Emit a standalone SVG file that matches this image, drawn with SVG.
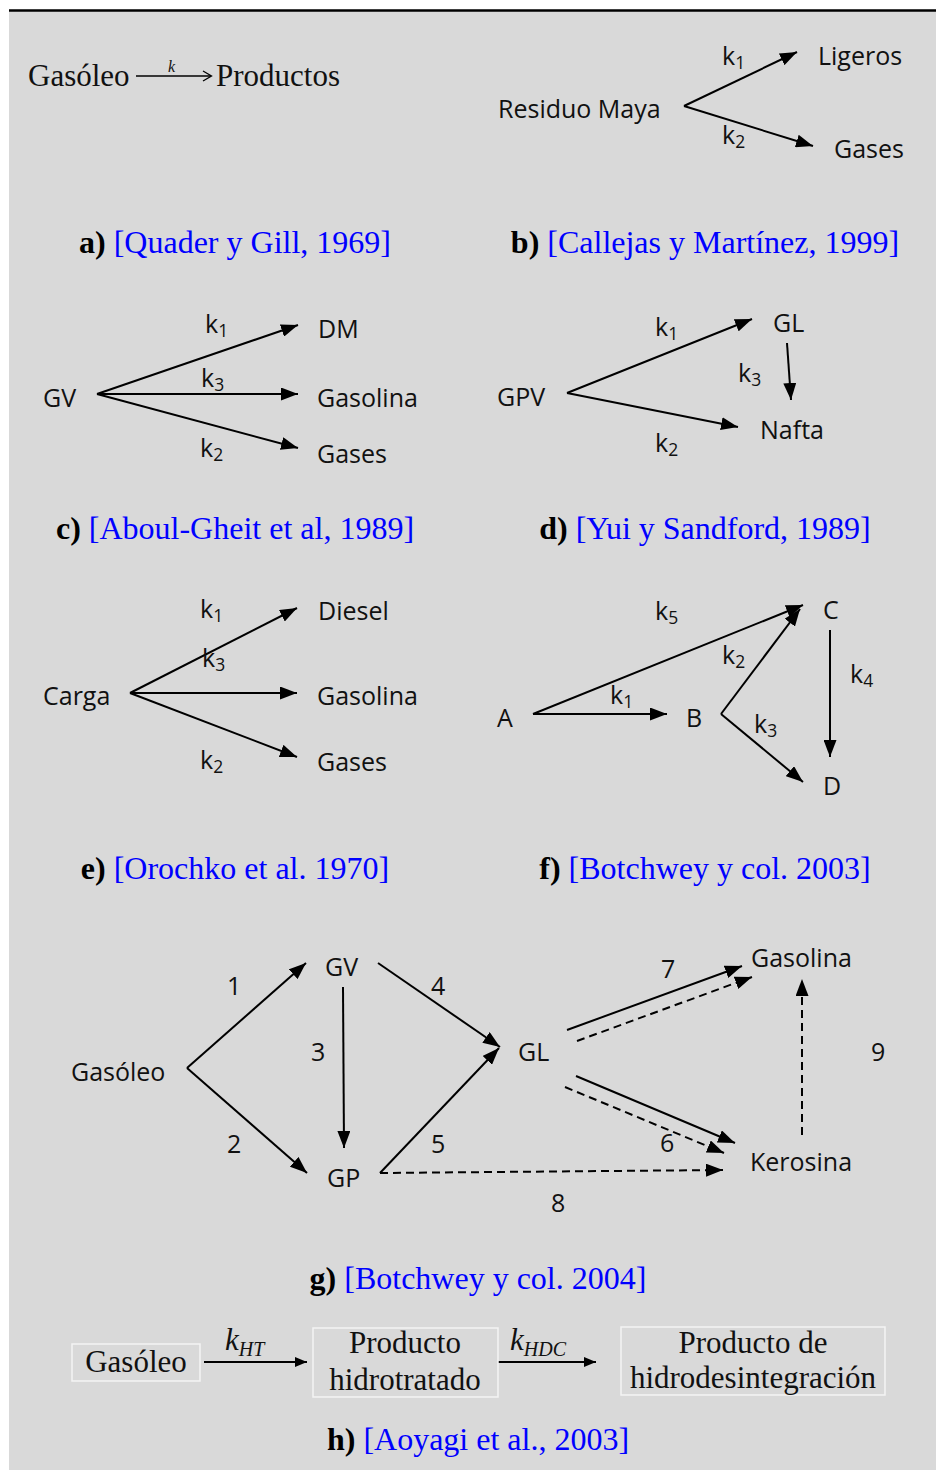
<svg xmlns="http://www.w3.org/2000/svg" width="936" height="1470" viewBox="0 0 936 1470">
<style>
.s{font-family:"Open Sans","Noto Sans",sans-serif;font-size:25px;fill:#111}
.sub{font-size:17.5px}
.t{font-family:"Liberation Serif","Times New Roman",serif;font-size:31px;fill:#111}
.cap{font-family:"Liberation Serif","Times New Roman",serif;font-size:32px;fill:#0000ff;text-anchor:middle}
.cap tspan.b{font-weight:bold;fill:#000}
.ln{stroke:#000;stroke-width:2;fill:none}
.ds{stroke:#000;stroke-width:2;fill:none;stroke-dasharray:8 5}
.bx{fill:#d9d9d9;stroke:#f4f4f4;stroke-width:1.5}
</style>
<defs>
<marker id="ah" viewBox="0 0 17 13" refX="17" refY="6.5" markerWidth="17" markerHeight="13" markerUnits="userSpaceOnUse" orient="auto"><path d="M0,0 L17,6.5 L0,13 z" fill="#000"/></marker>
<marker id="ahs" viewBox="0 0 12 10" refX="12" refY="5" markerWidth="12" markerHeight="10" markerUnits="userSpaceOnUse" orient="auto"><path d="M0,0 L12,5 L0,10 z" fill="#000"/></marker>
</defs>
<rect x="9" y="11" width="927" height="1459" fill="#d9d9d9"/>
<line x1="9" y1="10.5" x2="936" y2="10.5" stroke="#000" stroke-width="2.5"/>

<g id="connectors">
<line x1="136" y1="76" x2="211" y2="76" stroke="#000" stroke-width="1.3"/>
<path d="M203,71 L211.5,76 L203,81" stroke="#000" stroke-width="1.3" fill="none"/>
<line class="ln" x1="684" y1="106" x2="797" y2="52" marker-end="url(#ah)"/>
<line class="ln" x1="684" y1="106" x2="813" y2="146" marker-end="url(#ah)"/>
<line class="ln" x1="97" y1="394" x2="298" y2="325" marker-end="url(#ah)"/>
<line class="ln" x1="97" y1="394" x2="298" y2="394" marker-end="url(#ah)"/>
<line class="ln" x1="97" y1="394" x2="298" y2="448" marker-end="url(#ah)"/>
<line class="ln" x1="567" y1="393" x2="752" y2="319" marker-end="url(#ah)"/>
<line class="ln" x1="567" y1="393" x2="738" y2="427" marker-end="url(#ah)"/>
<line class="ln" x1="787" y1="343" x2="791" y2="400" marker-end="url(#ah)"/>
<line class="ln" x1="130" y1="693" x2="297" y2="608" marker-end="url(#ah)"/>
<line class="ln" x1="130" y1="693" x2="297" y2="693" marker-end="url(#ah)"/>
<line class="ln" x1="130" y1="693" x2="297" y2="757" marker-end="url(#ah)"/>
<line class="ln" x1="533" y1="714" x2="667" y2="714" marker-end="url(#ah)"/>
<line class="ln" x1="533" y1="714" x2="803" y2="605" marker-end="url(#ah)"/>
<line class="ln" x1="721" y1="714" x2="800" y2="609" marker-end="url(#ah)"/>
<line class="ln" x1="721" y1="714" x2="803" y2="782" marker-end="url(#ah)"/>
<line class="ln" x1="830" y1="630" x2="830" y2="757" marker-end="url(#ah)"/>
<line class="ln" x1="187" y1="1068" x2="306" y2="963" marker-end="url(#ah)"/>
<line class="ln" x1="187" y1="1068" x2="307" y2="1173" marker-end="url(#ah)"/>
<line class="ln" x1="343" y1="987" x2="344" y2="1148" marker-end="url(#ah)"/>
<line class="ln" x1="378" y1="963" x2="500" y2="1047" marker-end="url(#ah)"/>
<line class="ln" x1="380" y1="1173" x2="499" y2="1048" marker-end="url(#ah)"/>
<line class="ds" x1="380" y1="1173" x2="723" y2="1170" marker-end="url(#ah)"/>
<line class="ln" x1="567" y1="1030" x2="742" y2="966" marker-end="url(#ah)"/>
<line class="ds" x1="577" y1="1041" x2="752" y2="977" marker-end="url(#ah)"/>
<line class="ln" x1="576" y1="1076" x2="735" y2="1143" marker-end="url(#ah)"/>
<line class="ds" x1="565" y1="1087" x2="724" y2="1153" marker-end="url(#ah)"/>
<line class="ds" x1="802" y1="1135" x2="802" y2="979" marker-end="url(#ah)"/>
<line class="ln" x1="204" y1="1362" x2="307" y2="1362" marker-end="url(#ahs)"/>
<line class="ln" x1="493" y1="1362" x2="596" y2="1362" marker-end="url(#ahs)"/>
</g>

<g id="panel-a">
<text class="t" x="28" y="86">Gasóleo</text>
<text x="168" y="72" font-family="Liberation Serif,serif" font-style="italic" font-size="16" fill="#111">k</text>
<text class="t" x="216" y="86">Productos</text>
</g>

<g id="panel-b">
<text class="s" x="498" y="118">Residuo Maya</text>
<text class="s" x="818" y="65">Ligeros</text>
<text class="s" x="834" y="158">Gases</text>
<text class="s" x="722" y="65">k<tspan class="sub" dy="4">1</tspan></text>
<text class="s" x="722" y="144">k<tspan class="sub" dy="4">2</tspan></text>
</g>

<g id="panel-c">
<text class="s" x="43" y="407">GV</text>
<text class="s" x="318" y="338">DM</text>
<text class="s" x="317" y="407">Gasolina</text>
<text class="s" x="317" y="463">Gases</text>
<text class="s" x="205" y="333">k<tspan class="sub" dy="4">1</tspan></text>
<text class="s" x="201" y="387">k<tspan class="sub" dy="4">3</tspan></text>
<text class="s" x="200" y="457">k<tspan class="sub" dy="4">2</tspan></text>
</g>

<g id="panel-d">
<text class="s" x="497" y="406">GPV</text>
<text class="s" x="773" y="332">GL</text>
<text class="s" x="760" y="439">Nafta</text>
<text class="s" x="655" y="336">k<tspan class="sub" dy="4">1</tspan></text>
<text class="s" x="738" y="382">k<tspan class="sub" dy="4">3</tspan></text>
<text class="s" x="655" y="452">k<tspan class="sub" dy="4">2</tspan></text>
</g>

<g id="panel-e">
<text class="s" x="43" y="705">Carga</text>
<text class="s" x="318" y="620">Diesel</text>
<text class="s" x="317" y="705">Gasolina</text>
<text class="s" x="317" y="771">Gases</text>
<text class="s" x="200" y="618">k<tspan class="sub" dy="4">1</tspan></text>
<text class="s" x="202" y="667">k<tspan class="sub" dy="4">3</tspan></text>
<text class="s" x="200" y="769">k<tspan class="sub" dy="4">2</tspan></text>
</g>

<g id="panel-f">
<text class="s" x="497" y="727">A</text>
<text class="s" x="686" y="727">B</text>
<text class="s" x="823" y="619">C</text>
<text class="s" x="823" y="795">D</text>
<text class="s" x="655" y="620">k<tspan class="sub" dy="4">5</tspan></text>
<text class="s" x="722" y="664">k<tspan class="sub" dy="4">2</tspan></text>
<text class="s" x="850" y="683">k<tspan class="sub" dy="4">4</tspan></text>
<text class="s" x="610" y="704">k<tspan class="sub" dy="4">1</tspan></text>
<text class="s" x="754" y="733">k<tspan class="sub" dy="4">3</tspan></text>
</g>

<g id="panel-g">
<text class="s" x="71" y="1081">Gasóleo</text>
<text class="s" x="325" y="976">GV</text>
<text class="s" x="327" y="1187">GP</text>
<text class="s" x="518" y="1061">GL</text>
<text class="s" x="751" y="967">Gasolina</text>
<text class="s" x="750" y="1171">Kerosina</text>
<text class="s" x="227" y="995">1</text>
<text class="s" x="311" y="1061">3</text>
<text class="s" x="227" y="1153">2</text>
<text class="s" x="431" y="995">4</text>
<text class="s" x="431" y="1153">5</text>
<text class="s" x="661" y="978">7</text>
<text class="s" x="660" y="1152">6</text>
<text class="s" x="871" y="1061">9</text>
<text class="s" x="551" y="1212">8</text>
</g>

<g id="panel-h">
<rect class="bx" x="72" y="1344" width="128" height="37"/>
<rect class="bx" x="313" y="1328" width="185" height="69"/>
<rect class="bx" x="621" y="1327" width="264" height="68"/>
<text class="t" x="136" y="1372" text-anchor="middle">Gasóleo</text>
<text class="t" x="405" y="1353" text-anchor="middle">Producto</text>
<text class="t" x="405" y="1390" text-anchor="middle">hidrotratado</text>
<text class="t" x="753" y="1353" text-anchor="middle">Producto de</text>
<text class="t" x="753" y="1388" text-anchor="middle">hidrodesintegración</text>
<text class="t" x="225" y="1350" font-style="italic" font-size="28">k<tspan font-size="20" dy="6">HT</tspan></text>
<text class="t" x="510" y="1350" font-style="italic" font-size="28">k<tspan font-size="20" dy="6">HDC</tspan></text>
</g>

<g id="captions">
<text class="cap" x="235" y="253"><tspan class="b">a)</tspan> [Quader y Gill, 1969]</text>
<text class="cap" x="705" y="253"><tspan class="b">b)</tspan> [Callejas y Martínez, 1999]</text>
<text class="cap" x="235" y="539"><tspan class="b">c)</tspan> [Aboul-Gheit et al, 1989]</text>
<text class="cap" x="705" y="539"><tspan class="b">d)</tspan> [Yui y Sandford, 1989]</text>
<text class="cap" x="235" y="879"><tspan class="b">e)</tspan> [Orochko et al. 1970]</text>
<text class="cap" x="705" y="879"><tspan class="b">f)</tspan> [Botchwey y col. 2003]</text>
<text class="cap" x="478" y="1289"><tspan class="b">g)</tspan> [Botchwey y col. 2004]</text>
<text class="cap" x="478" y="1450"><tspan class="b">h)</tspan> [Aoyagi et al., 2003]</text>
</g>
</svg>
